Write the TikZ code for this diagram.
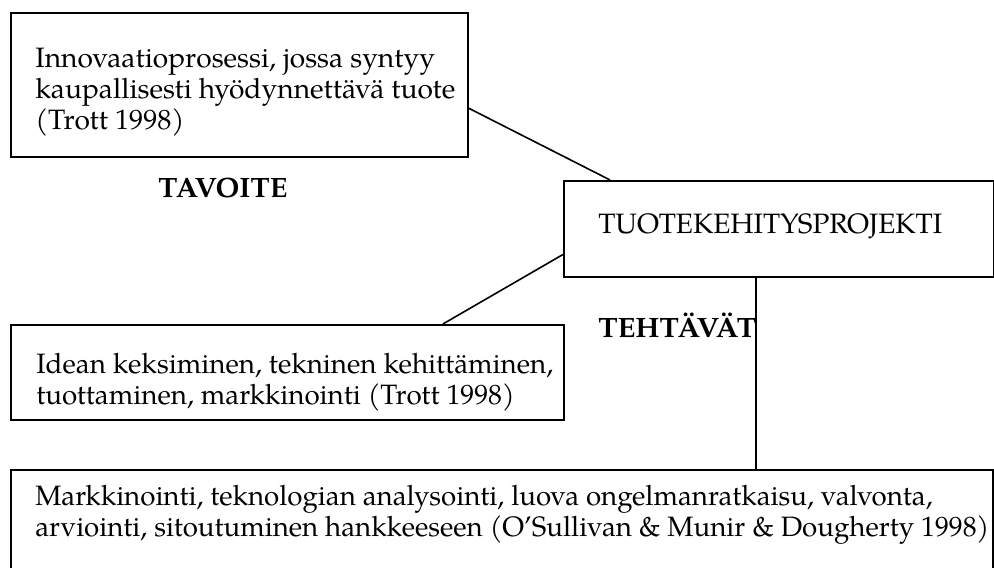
\documentclass[tikz,border=0pt]{standalone}
\usepackage{fontspec}
\setmainfont{TeX Gyre Pagella}
\usepackage{graphicx}
\usetikzlibrary{calc}
\newdimen\px \px=0.75pt
\newlength\Lwd
\newcommand\mainfs{\fontsize{21pt}{23.5pt}\selectfont}
\newcommand\setsx[3]{\settowidth\Lwd{#3}\pgfmathsetmacro#1{#2/\Lwd}}
\begin{document}
\setsx{\sxa}{315}{\mainfs kaupallisesti hyödynnettävä tuote}%
\setsx{\sxb}{258}{\mainfs TUOTEKEHITYSPROJEKTI}%
\setsx{\sxc}{387.75}{\mainfs Idean keksiminen, tekninen kehittäminen,}%
\setsx{\sxd}{715.5}{\mainfs arviointi, sitoutuminen hankkeeseen (O’Sullivan \& Munir \& Dougherty 1998)}%
\setsx{\sxe}{96.75}{\mainfs\bfseries TAVOITE}%
\setsx{\sxf}{118.5}{\mainfs\bfseries TEHTÄVÄT}%
\begin{tikzpicture}[x=0.75pt,y=-0.75pt]
\tikzset{
  box/.style={draw, line width=1.5pt, anchor=north west, inner sep=0pt},
  txt/.style={font=\mainfs, align=left, anchor=west, inner sep=0pt},
  hd/.style={font=\mainfs\bfseries, anchor=base west, inner sep=0pt},
  conn/.style={line width=1.2pt}
}
\useasboundingbox (0,0) rectangle (994,567);
% boxes
\node[box, minimum width=457\px, minimum height=144\px] (b1) at (10,12) {};
\node[box, minimum width=430\px, minimum height=96\px] (b2) at (563,180) {};
\node[box, minimum width=553\px, minimum height=95\px] (b3) at (10,324) {};
\node[box, minimum width=982\px, minimum height=140\px] (b4) at (10,469) {};
% texts
\node[txt, font=\fontsize{21pt}{23.25pt}\selectfont] (t1) at (35,92) {\scalebox{\sxa}[1]{Innovaatioprosessi, jossa syntyy}\\\scalebox{\sxa}[1]{kaupallisesti hyödynnettävä tuote}\\\scalebox{\sxa}[1]{(Trott 1998)}};
\node[txt, anchor=base west] (t2) at (598,233) {\scalebox{\sxb}[1]{TUOTEKEHITYSPROJEKTI}};
\node[txt, font=\fontsize{21pt}{23.25pt}\selectfont] (t3) at (36,382) {\scalebox{\sxc}[1]{Idean keksiminen, tekninen kehittäminen,}\\\scalebox{\sxc}[1]{tuottaminen, markkinointi (Trott 1998)}};
\node[txt, font=\fontsize{21pt}{23.25pt}\selectfont] (t4) at (35,515) {\scalebox{\sxd}[1]{Markkinointi, teknologian analysointi, luova ongelmanratkaisu, valvonta,}\\\scalebox{\sxd}[1]{arviointi, sitoutuminen hankkeeseen (O’Sullivan \& Munir \& Dougherty 1998)}};
\node[hd] (h1) at (158,197) {\scalebox{\sxe}[1]{TAVOITE}};
\node[hd] (h2) at (598,337) {\scalebox{\sxf}[1]{TEHTÄVÄT}};
% connectors
\draw[conn] ($(b1.north east)!0.66!(b1.south east)$) -- ($(b2.north west)!0.109!(b2.north east)$);
\draw[conn] ($(b2.north west)!0.76!(b2.south west)$) -- ($(b3.north west)!0.78!(b3.north east)$);
\coordinate (v1) at ($(b2.south west)!0.4465!(b2.south east)$);
\draw[conn] (v1) -- (v1 |- b4.north);
\end{tikzpicture}
\end{document}
